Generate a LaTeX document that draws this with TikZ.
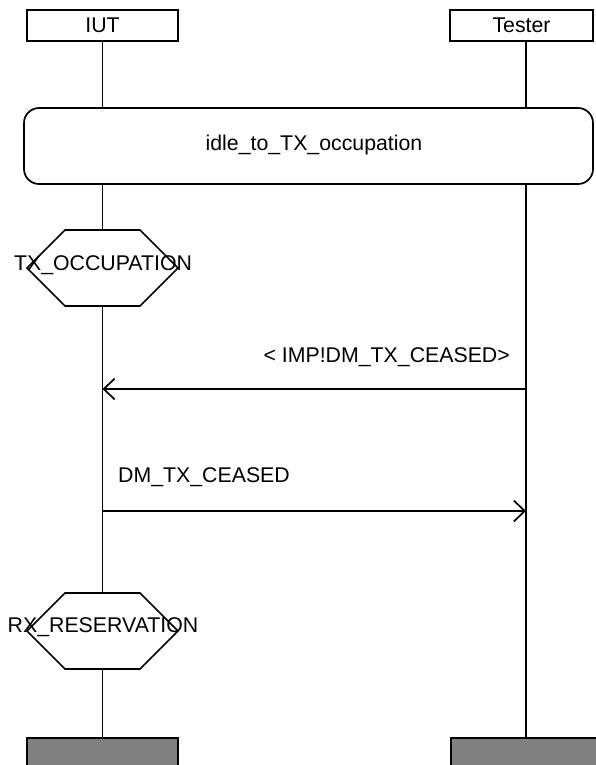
\documentclass[tikz,border=0pt]{standalone}
\usepackage{fontspec}
\setmainfont{Liberation Sans}
\usetikzlibrary{arrows.meta}
\begin{document}
\begin{tikzpicture}[x=1pt,y=-1pt,
  every node/.style={font=\fontsize{21.3}{24}\selectfont, inner sep=0pt},
  ln/.style={line width=1.7pt, line cap=rect},
  hdr/.style={draw, line width=1.7pt, minimum height=31pt},
  endbox/.style={draw, line width=1.7pt, fill=black!50},
  msg/.style={line width=1.7pt, -{Straight Barb[length=11pt,width=21pt,line width=1.7pt]}}]
\useasboundingbox (0,0) rectangle (595,765);
\fill[white] (0,0) rectangle (595,765);
% headers
\node[hdr, minimum width=151pt] (iut) at (102.5,25.5) {IUT};
\node[hdr, minimum width=143pt] (tester) at (521.5,25.5) {Tester};
% reference box
\node[draw, line width=1.7pt, rounded corners=15pt, minimum width=569pt, minimum height=76pt] (ref) at (308.5,146) {};
\node (reftxt) at (314,145) {idle\_to\_TX\_occupation};
% conditions
\draw[ln] (27,268) -- (65,230) -- (140,230) -- (178,268) -- (140,306) -- (65,306) -- cycle;
\node (tx) at (103,265) {TX\_OCCUPATION};
\draw[ln] (27,631) -- (65,593) -- (140,593) -- (178,631) -- (140,669) -- (65,669) -- cycle;
\node (rx) at (103,627) {RX\_RESERVATION};
% end boxes
\node[endbox, minimum width=151pt, minimum height=40pt, anchor=north] (iutend) at (102.5,737) {};
\node[endbox, minimum width=160pt, minimum height=40pt, anchor=north west] (testerend) at (450,737) {};
% lifelines
\coordinate (iutx) at (102.5,0);
\coordinate (testx) at (526,0);
\draw[ln] (iut.south) -- (ref.north -| iutx);
\draw[ln] (tester.south -| testx) -- (ref.north -| testx);
\draw[ln] (ref.south -| iutx) -- (102.5,230);
\draw[ln] (102.5,306) -- (102.5,593);
\draw[ln] (102.5,669) -- (iutend.north);
\draw[ln] (ref.south -| testx) -- (testerend.north -| testx);
% messages
\coordinate (m1t) at (526,389);
\coordinate (m1i) at (102.5,389);
\draw[msg] (m1t) -- (m1i);
\node[anchor=east] (l1) at (510,357) {< IMP!DM\_TX\_CEASED>};
\coordinate (m2i) at (102.5,511);
\coordinate (m2t) at (526,511);
\draw[msg] (m2i) -- (m2t);
\node[anchor=west] (l2) at (118,477) {DM\_TX\_CEASED};
\end{tikzpicture}
\end{document}
